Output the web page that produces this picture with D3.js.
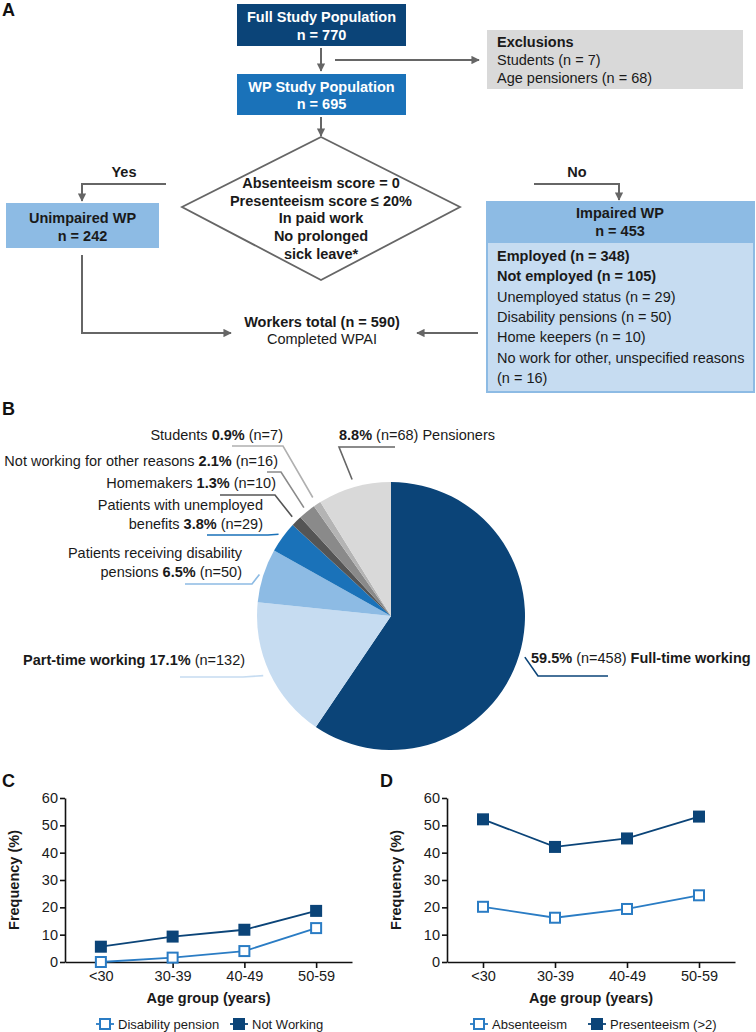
<!DOCTYPE html>
<html><head><meta charset="utf-8">
<script src="https://cdn.jsdelivr.net/npm/d3@7"></script>
<style>body{margin:0;background:#fff} svg{display:block} text{font-family:"Liberation Sans",Arial,sans-serif}</style>
</head><body><svg id="c" width="756" height="1032"></svg>
<script>
// ---------- DATA ----------
const pieCategories = ["Full-time working","Part-time working","Patients receiving disability pensions","Patients with unemployed benefits","Homemakers","Not working for other reasons","Students","Pensioners"];
const pieCounts = [458,132,50,29,10,16,7,68];
const piePercents = ["59.5%","17.1%","6.5%","3.8%","1.3%","2.1%","0.9%","8.8%"];
const ageGroups = ["<30","30-39","40-49","50-59"];
const disabilityPension = [0,1.6,4.0,12.4];
const notWorking = [5.6,9.3,11.8,18.7];
const absenteeism = [20.2,16.2,19.4,24.4];
const presenteeism = [52.2,42.1,45.2,53.2];
const yTicks = [0,10,20,30,40,50,60];
const flowCounts = {full:770, wp:695, students:7, agePensioners:68, unimpaired:242, impaired:453, employed:348, notEmployed:105, unemployed:29, disability:50, homeKeepers:10, otherReasons:16, workers:590};

// ---------- STYLE ----------
const navy="#0b4478", blue="#1a72b9", lightBlue="#8dbbe4", paleBlue="#c6dcf1", arrowGray="#666666";
const FS=14.5;
const svg=d3.select("#c");
svg.append("defs").append("marker").attr("id","ah").attr("viewBox","0 0 10 10").attr("refX",9).attr("refY",5)
  .attr("markerWidth",4.2).attr("markerHeight",4.2).attr("orient","auto-start-reverse")
  .append("path").attr("d","M0,0L10,5L0,10z").attr("fill",arrowGray);

function txt(g,x,y,parts,anchor,fill,size){
  const t=g.append("text").attr("x",x).attr("y",y).attr("text-anchor",anchor||"start").attr("fill",fill||"#1a1a1a").attr("font-size",size||FS);
  parts.forEach(p=>{ if(typeof p==="string") p=[p,false]; t.append("tspan").attr("font-weight",p[1]?"bold":"normal").text(p[0]);});
  return t;
}
function line(pts,opts){
  const p=svg.append("path").attr("d",d3.line()(pts)).attr("fill","none").attr("stroke",opts&&opts.color||arrowGray).attr("stroke-width",opts&&opts.w||2);
  if(!opts||opts.arrow!==false) p.attr("marker-end","url(#ah)");
  return p;
}

// ---------- PANEL A: flowchart ----------
txt(svg,2,16,[["A",true]],"start","#111",18);
svg.append("rect").attr("x",237).attr("y",4).attr("width",169).attr("height",42).attr("fill",navy);
txt(svg,321.5,22,[["Full Study Population",true]],"middle","#fff");
txt(svg,321.5,40,[["n = "+flowCounts.full,true]],"middle","#fff");
line([[321,48],[321,71]]);
line([[335,60],[479,60]]);
svg.append("rect").attr("x",487).attr("y",30).attr("width",256).attr("height",59).attr("fill","#d9d9d9");
txt(svg,497,47,[["Exclusions",true]]);
txt(svg,497,65,["Students (n = "+flowCounts.students+")"]);
txt(svg,497,83,["Age pensioners (n = "+flowCounts.agePensioners+")"]);
svg.append("rect").attr("x",237).attr("y",74).attr("width",169).attr("height",41).attr("fill",blue);
txt(svg,321.5,92,[["WP Study Population",true]],"middle","#fff");
txt(svg,321.5,109,[["n = "+flowCounts.wp,true]],"middle","#fff");
line([[321,117],[321,136]]);
svg.append("path").attr("d","M321,137L460,207L321,280L182,207Z").attr("fill","#fff").attr("stroke",arrowGray).attr("stroke-width",1.8);
["Absenteeism score = 0","Presenteeism score \u2264 20%","In paid work","No prolonged","sick leave*"].forEach((s,i)=>txt(svg,321,188+i*17.7,[[s,true]],"middle"));
line([[166,184],[82,184],[82,201]]);
txt(svg,124,177,[["Yes",true]],"middle");
line([[534,184],[619,184],[619,200]]);
txt(svg,577,177,[["No",true]],"middle");
svg.append("rect").attr("x",6).attr("y",203).attr("width",153).attr("height",45).attr("fill",lightBlue);
txt(svg,82.5,223,[["Unimpaired WP",true]],"middle");
txt(svg,82.5,241,[["n = "+flowCounts.unimpaired,true]],"middle");
line([[82,255],[82,333],[231,333]]);
txt(svg,322,327,[["Workers total (n = "+flowCounts.workers+")",true]],"middle");
txt(svg,322,344,["Completed WPAI"],"middle");
line([[478,333],[417,333]]);
svg.append("rect").attr("x",487).attr("y",202).attr("width",267).attr("height",190).attr("fill",paleBlue).attr("stroke",lightBlue).attr("stroke-width",2);
svg.append("rect").attr("x",486).attr("y",201).attr("width",269).attr("height",42).attr("fill",lightBlue);
txt(svg,620,218,[["Impaired WP",true]],"middle");
txt(svg,620,236,[["n = "+flowCounts.impaired,true]],"middle");
const impLines=[[["Employed (n = "+flowCounts.employed+")",true]],[["Not employed (n = "+flowCounts.notEmployed+")",true]],
 ["Unemployed status (n = "+flowCounts.unemployed+")"],["Disability pensions (n = "+flowCounts.disability+")"],
 ["Home keepers (n = "+flowCounts.homeKeepers+")"],["No work for other, unspecified reasons"],["(n = "+flowCounts.otherReasons+")"]];
impLines.forEach((l,i)=>txt(svg,497,261+i*20.3,l));

// ---------- PANEL B: pie ----------
txt(svg,2,415,[["B",true]],"start","#111",18);
const pieColors=[navy,paleBlue,lightBlue,blue,"#555555","#8a8a8a","#b4b4b4","#d9d9d9"];
const leaderColors=[navy,paleBlue,lightBlue,blue,"#555555","#8a8a8a","#b0b0b0","#666666"];
const cx=391, cy=616, R=134;
const arcs=d3.pie().sort(null).value(d=>d)(pieCounts);
const gp=svg.append("g").attr("transform",`translate(${cx},${cy})`);
gp.selectAll("path").data(arcs).join("path").attr("d",d3.arc().innerRadius(0).outerRadius(R)).attr("fill",(d,i)=>pieColors[i]);
function pieEnd(i,r){const a=(arcs[i].startAngle+arcs[i].endAngle)/2;return [cx+r*Math.sin(a),cy-r*Math.cos(a)];}
const pieLabelLayout=[
 {x:531,y:663,anchor:"start",lines:[[[piePercents[0],true]," (n="+pieCounts[0]+") ",[pieCategories[0],true]]],pts:i=>[pieEnd(i,140),[538,676],[608,676]]},
 {x:23,y:665,anchor:"start",lines:[[[pieCategories[1]+" "+piePercents[1],true]," (n="+pieCounts[1]+")"]],pts:i=>[[180,677],[243,677],pieEnd(i,141)]},
 {x:242,y:558,anchor:"end",lines:[["Patients receiving disability"],["pensions ",[piePercents[2],true]," (n="+pieCounts[2]+")"]],pts:i=>[[185,584],[252,584],pieEnd(i,138)]},
 {x:263,y:510,anchor:"end",lines:[["Patients with unemployed"],["benefits ",[piePercents[3],true]," (n="+pieCounts[3]+")"]],pts:i=>[[207,535],[268,535],pieEnd(i,139)]},
 {x:276,y:488,anchor:"end",lines:[[pieCategories[4]+" ",[piePercents[4],true]," (n="+pieCounts[4]+")"]],pts:i=>[[220,495],[275,495],pieEnd(i,140)]},
 {x:278,y:466,anchor:"end",lines:[[pieCategories[5]+" ",[piePercents[5],true]," (n="+pieCounts[5]+")"]],pts:i=>[[267,472],[281,472],pieEnd(i,139)]},
 {x:283,y:440,anchor:"end",lines:[[pieCategories[6]+" ",[piePercents[6],true]," (n="+pieCounts[6]+")"]],pts:i=>[[232,446],[283,446],pieEnd(i,142)]},
 {x:339,y:440,anchor:"start",lines:[[[piePercents[7],true]," (n="+pieCounts[7]+") "+pieCategories[7]]],pts:i=>[[395,447],[339,447],pieEnd(i,142)]}
];
pieLabelLayout.forEach((L,i)=>{
  L.lines.forEach((parts,k)=>txt(svg,L.x,L.y+k*19,parts,L.anchor));
  line(L.pts(i),{color:leaderColors[i],w:1.6,arrow:false});
});

// ---------- PANELS C & D: line charts ----------
const openC="#2a7cc4", fillC=navy;
function lineChart(opt){
  txt(svg,opt.letterX,787,[[opt.letter,true]],"start","#111",18);
  const x=d3.scalePoint().domain(ageGroups).range([opt.x0,opt.x1]).padding(0.5);
  const y=d3.scaleLinear().domain([0,60]).range([962,798]);
  const g=svg.append("g");
  const ya=g.append("g").attr("transform",`translate(${opt.x0},0)`).call(d3.axisLeft(y).tickValues(yTicks).tickSize(5).tickSizeOuter(0));
  const xa=g.append("g").attr("transform",`translate(0,962)`).call(d3.axisBottom(x).tickSize(6).tickSizeOuter(0));
  [ya,xa].forEach(a=>{a.selectAll("path,line").attr("stroke","#111").attr("stroke-width",1.6);
    a.selectAll("text").attr("font-size",FS).attr("fill","#1a1a1a").attr("font-family","Liberation Sans, Arial, sans-serif");});
  ya.selectAll("text").attr("x",-7);
  xa.selectAll("text").attr("y",9);
  txt(svg,(opt.x0+opt.x1)/2,1003,[["Age group (years)",true]],"middle");
  svg.append("text").attr("transform",`translate(${opt.x0-46},880) rotate(-90)`).attr("text-anchor","middle")
    .attr("font-size",FS).attr("font-weight","bold").attr("fill","#1a1a1a").text("Frequency (%)");
  const ln=d3.line().x((d,i)=>x(ageGroups[i])).y(d=>y(d));
  g.append("path").attr("d",ln(opt.filled)).attr("fill","none").attr("stroke",fillC).attr("stroke-width",1.8);
  g.append("path").attr("d",ln(opt.open)).attr("fill","none").attr("stroke",openC).attr("stroke-width",1.8);
  g.selectAll(".f").data(opt.filled).join("rect").attr("x",(d,i)=>x(ageGroups[i])-6).attr("y",d=>y(d)-6).attr("width",12).attr("height",12).attr("fill",fillC);
  g.selectAll(".o").data(opt.open).join("rect").attr("x",(d,i)=>x(ageGroups[i])-5).attr("y",d=>y(d)-5).attr("width",10).attr("height",10).attr("fill","#fff").attr("stroke",openC).attr("stroke-width",2);
  // legend
  const ly=1024;
  opt.legend.forEach(L=>{
    svg.append("line").attr("x1",L.mx-9).attr("x2",L.mx+9).attr("y1",ly).attr("y2",ly).attr("stroke",L.open?openC:fillC).attr("stroke-width",1.8);
    if(L.open) svg.append("rect").attr("x",L.mx-5).attr("y",ly-5).attr("width",10).attr("height",10).attr("fill","#fff").attr("stroke",openC).attr("stroke-width",2);
    else svg.append("rect").attr("x",L.mx-6).attr("y",ly-6).attr("width",12).attr("height",12).attr("fill",fillC);
    txt(svg,L.mx+13,ly+5,[L.label],"start","#1a1a1a",13);
  });
}
lineChart({letter:"C",letterX:2,x0:65,x1:352,open:disabilityPension,filled:notWorking,
  legend:[{mx:105,open:true,label:"Disability pension"},{mx:239,open:false,label:"Not Working"}]});
lineChart({letter:"D",letterX:380,x0:447,x1:735,open:absenteeism,filled:presenteeism,
  legend:[{mx:479,open:true,label:"Absenteeism"},{mx:597,open:false,label:"Presenteeism (>2)"}]});
</script></body></html>
